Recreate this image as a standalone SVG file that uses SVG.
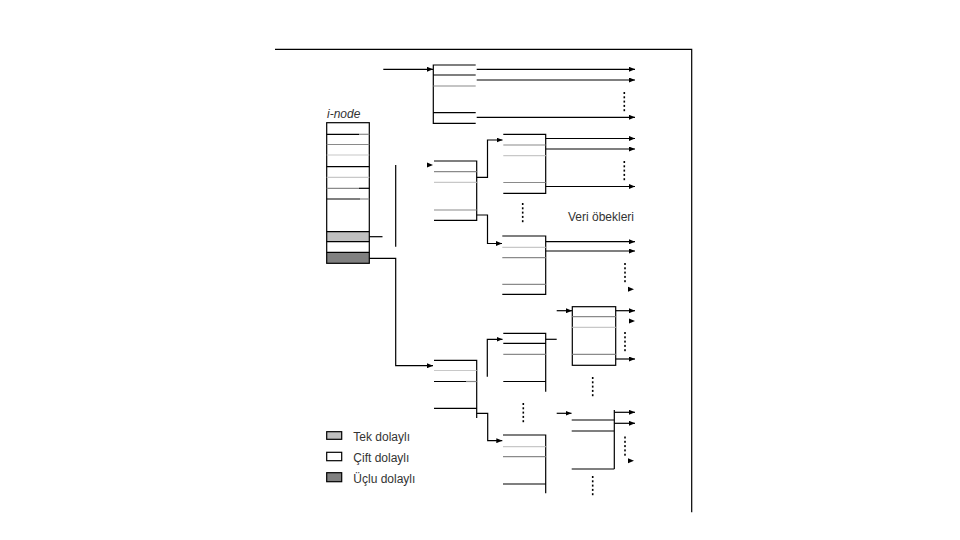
<svg xmlns="http://www.w3.org/2000/svg" xmlns:xlink="http://www.w3.org/1999/xlink" width="960" height="540" viewBox="0 0 960 540">
<style>
.k{stroke:#000;stroke-width:1.2;fill:none}
.g{stroke:#8a8a8a;stroke-width:1.2;fill:none}
.lg{stroke:#c8c8c8;stroke-width:1.2;fill:none}
.a{stroke:#000;stroke-width:1.2;fill:none;marker-end:url(#arr)}
.t{font-family:"Liberation Sans",Arial,sans-serif;font-size:12px;fill:#333}
.d{fill:#000}
</style>
<defs>
<marker id="arr" viewBox="0 0 6 5" refX="6" refY="2.5" markerWidth="6" markerHeight="5" markerUnits="userSpaceOnUse" orient="auto">
<path d="M0,0 L6,2.5 L0,5z" fill="#000"/>
</marker>
<path id="ah" d="M-6,-2.5 L0,0 L-6,2.5z" fill="#000"/>
<g id="dots">
<rect x="-0.8" y="0" width="1.6" height="2" class="d"/>
<rect x="-0.8" y="4.3" width="1.6" height="2" class="d"/>
<rect x="-0.8" y="8.6" width="1.6" height="2" class="d"/>
<rect x="-0.8" y="12.9" width="1.6" height="2" class="d"/>
<rect x="-0.8" y="17.2" width="1.6" height="2" class="d"/>
</g>
</defs>
<rect width="960" height="540" fill="#fff"/>

<g id="frame">
<path class="k" d="M275 49.3 H691.7 V512.3"/>
</g>

<g id="inode">
<text class="t" x="327" y="118" font-style="italic" fill="#444">i-node</text>
<rect x="326.7" y="231.7" width="42.6" height="10" fill="#c0c0c0"/>
<rect x="326.7" y="252.3" width="42.6" height="11" fill="#808080"/>
<rect x="326.7" y="122.7" width="42.6" height="140.6" class="k"/>
<path class="k" d="M326.7 134.3 H359"/>
<path class="g" d="M359 134.3 H369.3"/>
<path class="g" d="M326.7 144.5 H369.3"/>
<path class="lg" d="M326.7 155 H369.3"/>
<path class="k" d="M326.7 166.7 H369.3"/>
<path class="lg" d="M326.7 177.3 H369.3"/>
<path class="g" d="M326.7 188.3 H359"/>
<path class="k" d="M359 188.3 H369.3"/>
<path class="k" d="M326.7 199 H360"/>
<path class="g" d="M360 199 H369.3"/>
<path class="k" d="M326.7 231.7 H369.3 M326.7 241.7 H369.3 M326.7 252.3 H369.3"/>
</g>

<g id="direct-block">
<path class="k" d="M475.7 65 H433.3 V123.3 H475.7 M433.3 75 H475.7 M433.3 112.7 H475.7"/>
<path class="g" d="M433.3 86 H475.7"/>
</g>

<g id="single-indirect">
<path class="k" d="M434 161 H476.7 V220.3 H434"/>
<path class="g" d="M434 171.7 H476.7"/>
<path class="lg" d="M434 182.3 H476.7"/>
<path class="g" d="M434 210 H476.7"/>
<use xlink:href="#ah" x="433" y="165"/>
</g>

<g id="block-a1">
<path class="k" d="M503.3 134.3 H545.7 V193.3 H503.3"/>
<path class="g" d="M503.3 145 H545.7"/>
<path class="lg" d="M503.3 155.7 H545.7"/>
<path class="g" d="M503.3 182.5 H545.7"/>
</g>

<g id="block-a2">
<path class="k" d="M502.3 236 H545.7 V294.3 H502.3"/>
<path class="lg" d="M502.3 247.3 H545.7"/>
<path class="g" d="M502.3 257.7 H545.7 M502.3 284.3 H545.7"/>
</g>

<g id="double-indirect">
<path class="k" d="M434 360.3 H476.7 V418 M434 381.5 H466 M434 408.3 H476.7"/>
<path class="g" d="M466 381.5 H476.7"/>
<path class="lg" d="M434 370.5 H476.7"/>
</g>

<g id="block-b1">
<path class="k" d="M503.3 333.3 H545.7 V391.7 M503.3 343.3 H545.7 M503.3 381.5 H545.7"/>
<path class="g" d="M503.3 354.3 H545.7"/>
</g>

<g id="block-b2">
<path class="k" d="M503 435 H545.7 V493.3 M503 484 H545.7"/>
<path class="lg" d="M503 446.7 H545.7"/>
<path class="g" d="M503 456.7 H545.7"/>
</g>

<g id="block-c1">
<rect x="572.3" y="306.7" width="43.4" height="58.6" class="k"/>
<path class="g" d="M572.3 316.7 H615.7 M572.3 354.3 H615.7"/>
<path class="lg" d="M572.3 327.3 H615.7"/>
</g>

<g id="block-c2">
<path class="k" d="M614.3 410 V469 M571.7 420 H614.3 M571.7 431 H614.3 M571.7 469 H614.3"/>
</g>

<g id="label">
<text class="t" x="568" y="220.5">Veri öbekleri</text>
</g>

<g id="legend">
<rect x="326.7" y="431.7" width="15" height="7.6" fill="#c0c0c0" stroke="#000" stroke-width="1.2"/>
<rect x="326.7" y="452.3" width="15" height="8.4" fill="#fff" stroke="#000" stroke-width="1.2"/>
<rect x="326.7" y="472.7" width="15" height="9" fill="#808080" stroke="#000" stroke-width="1.2"/>
<text class="t" x="353.3" y="440.5">Tek dolaylı</text>
<text class="t" x="353.3" y="461.5">Çift dolaylı</text>
<text class="t" x="353.3" y="482.5">Üçlu dolaylı</text>
</g>

<g id="connectors">
<path class="a" d="M383.3 69.3 H433"/>
<path class="a" d="M476.7 69.3 H635"/>
<path class="a" d="M476.7 80 H635"/>
<path class="a" d="M476.7 117.3 H635"/>
<path class="k" d="M369.3 236.7 H382.5"/>
<path class="k" d="M395.7 165 V246.7"/>
<path class="a" d="M476.7 177.3 H487.5 V140 H502.5"/>
<path class="a" d="M476.7 215 H487.5 V243.5 H502"/>
<path class="a" d="M545.7 138.5 H635"/>
<path class="a" d="M545.7 149 H635"/>
<path class="a" d="M545.7 186.5 H635"/>
<path class="a" d="M545.7 241.7 H635"/>
<path class="a" d="M545.7 251 H635"/>
<use xlink:href="#ah" x="634" y="289.3"/>
<path class="a" d="M369.3 258.3 H395.7 V365.7 H433"/>
<path class="a" d="M487.3 376.7 V339.3 H502.5"/>
<path class="a" d="M476.7 413.3 H487.7 V440.7 H502.3"/>
<path class="k" d="M545.7 339.3 H556.7"/>
<path class="a" d="M556.7 310.7 H572"/>
<path class="a" d="M615.7 310.7 H635"/>
<use xlink:href="#ah" x="635" y="321"/>
<path class="a" d="M615.7 359 H635"/>
<path class="a" d="M556.7 413.3 H571.5"/>
<path class="a" d="M614.3 412.3 H635"/>
<path class="a" d="M614.3 423.3 H635"/>
<use xlink:href="#ah" x="634" y="460.7"/>
<use xlink:href="#dots" x="624.3" y="92"/>
<use xlink:href="#dots" x="624.3" y="161"/>
<use xlink:href="#dots" x="522.7" y="203"/>
<use xlink:href="#dots" x="625" y="263"/>
<use xlink:href="#dots" x="625" y="332"/>
<use xlink:href="#dots" x="592.7" y="377"/>
<use xlink:href="#dots" x="523.3" y="403"/>
<use xlink:href="#dots" x="625" y="436.5"/>
<use xlink:href="#dots" x="592.7" y="476"/>
</g>
</svg>
